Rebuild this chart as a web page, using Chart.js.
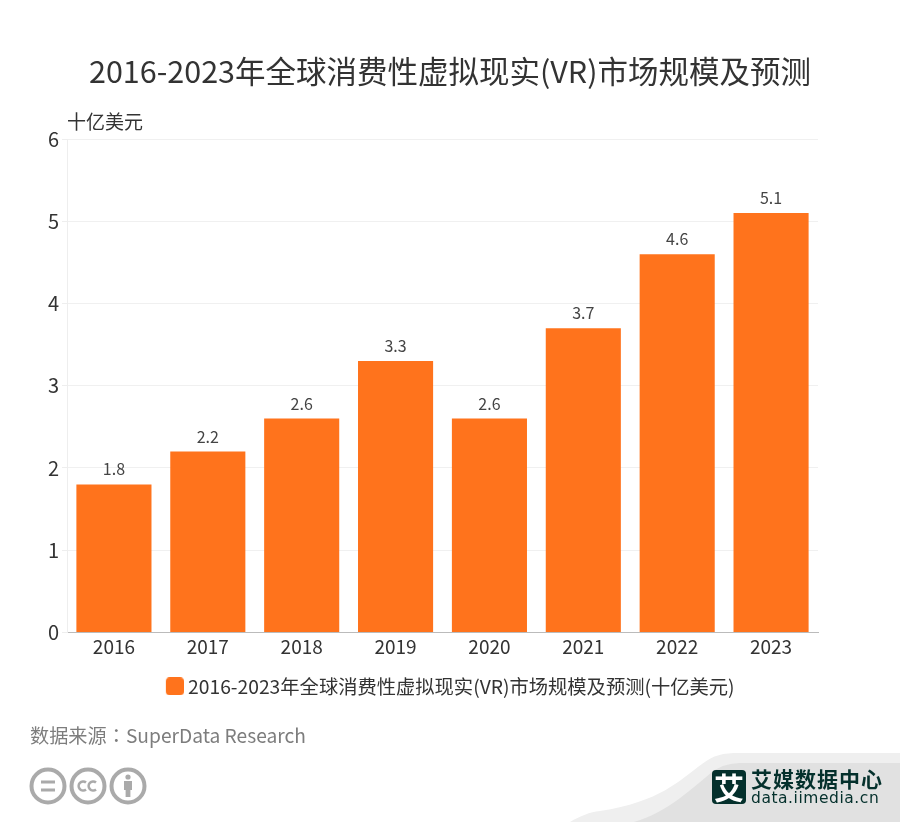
<!DOCTYPE html>
<html><head><meta charset="utf-8">
<style>
html,body{margin:0;padding:0;background:#fff;width:900px;height:822px;overflow:hidden}
#wrap{position:relative;width:900px;height:822px}
canvas{position:absolute;left:0;top:0}
.t{position:absolute;white-space:nowrap;font-family:"Noto Sans CJK SC","Noto Sans",sans-serif}
svg{position:absolute;left:0;top:0}
</style>
<script src="https://cdn.jsdelivr.net/npm/chart.js@4"></script>
</head><body><div id="wrap">
<svg width="900" height="822" viewBox="0 0 900 822">
<path d="M600 811 C660 802 680 780 702 764 C714 755 722 753 740 753 L900 753 L900 822 L570 822 C580 816 590 812 600 811Z" fill="#efefef"/>
<path d="M634 822 C668 812 690 790 712 772 C722 765 730 763 745 763 L900 763 L900 822Z" fill="#e1e1e1"/>
<g fill="none" stroke="#aaaaaa" stroke-width="4">
<circle cx="48" cy="786" r="16.5"/><circle cx="88" cy="786" r="16.5"/><circle cx="128" cy="786" r="16.5"/>
</g>
<path d="M41 782h14M41 790h14" stroke="#aaa" stroke-width="3.2" fill="none"/>
<path d="M86 782.5a4.5 4.5 0 1 0 0 7M96 782.5a4.5 4.5 0 1 0 0 7" stroke="#aaa" stroke-width="2.6" fill="none"/>
<circle cx="128" cy="777" r="2.6" fill="#aaa"/>
<path d="M124 781h8v9h-1.6v7h-4.8v-7H124z" fill="#aaa"/>
<rect x="712" y="770" width="34" height="34" rx="4" fill="#04302c"/>
</svg>
<canvas id="c" width="900" height="822"></canvas>
<div class="t" style="left:713px;top:768px;width:32px;text-align:center;font-size:30px;line-height:36px;color:#fff;font-weight:700">艾</div>
<div class="t" style="left:751px;top:764px;font-size:21px;line-height:28px;color:#04302c;font-weight:700;letter-spacing:1px">艾媒数据中心</div>
<div class="t" style="left:751px;top:788px;font-size:15.5px;line-height:20px;color:#04302c;font-family:'DejaVu Sans';letter-spacing:.55px">data.iimedia.cn</div>
<div class="t" style="left:67px;top:107px;font-size:19px;line-height:28px;color:#333">十亿美元</div>
<div class="t" style="left:30px;top:721px;font-size:19.2px;line-height:28px;color:#7d7d7d">数据来源<span style="font-family:'Noto Sans CJK TC'">：</span>SuperData Research</div>
</div>
<script>
const categories = ["2016","2017","2018","2019","2020","2021","2022","2023"];
const seriesValues = [1.8,2.2,2.6,3.3,2.6,3.7,4.6,5.1];
const seriesName = "2016-2023年全球消费性虚拟现实(VR)市场规模及预测(十亿美元)";
const chartTitle = "2016-2023年全球消费性虚拟现实(VR)市场规模及预测";
const FF = '"Noto Sans CJK SC","Noto Sans",sans-serif';
const barColor = '#ff731c';
const swatch = document.createElement('canvas');
swatch.width = 24; swatch.height = 18;
{ const s = swatch.getContext('2d'); s.fillStyle = barColor; s.beginPath(); s.roundRect(6,0,18,18,4); s.fill(); }
const dataLabels = {
  id:'dataLabels',
  afterDatasetsDraw(chart){
    const {ctx} = chart;
    const meta = chart.getDatasetMeta(0);
    ctx.save();
    ctx.font = '16px '+FF; ctx.fillStyle='#444'; ctx.textAlign='center'; ctx.textBaseline='bottom';
    meta.data.forEach((el,i)=>ctx.fillText(seriesValues[i].toFixed(1), el.x, el.y-7));
    ctx.restore();
  }
};
new Chart(document.getElementById('c'),{
  type:'bar',
  data:{labels:categories,datasets:[{label:seriesName,data:seriesValues,backgroundColor:barColor,borderWidth:0,barPercentage:0.8,categoryPercentage:1,pointStyle:swatch}]},
  plugins:[dataLabels],
  options:{
    responsive:false,animation:false,devicePixelRatio:1,
    layout:{padding:{left:0,right:0,top:53,bottom:116}},
    plugins:{
      tooltip:{enabled:false},
      title:{display:true,text:chartTitle,color:'#333',font:{family:FF,size:30.5,weight:'normal'},padding:{top:0,bottom:49.4}},
      legend:{position:'bottom',labels:{usePointStyle:true,boxWidth:13,color:'#333',font:{family:FF,size:19.3},boxHeight:15.5,padding:19.5}}
    },
    scales:{
      x:{grid:{display:false,tickLength:4,tickColor:'#bbb'},border:{color:'#bbb'},ticks:{color:'#333',font:{family:FF,size:19},padding:-1,maxRotation:0}},
      y:{min:0,max:6,afterFit(s){s.width=67},grid:{color:'#f0f0f0',tickLength:5,tickColor:'#eee'},border:{color:'#eee',width:1},
         ticks:{stepSize:1,color:'#333',font:{family:FF,size:20},padding:3}},
      spacer:{position:'right',afterFit(s){s.width=82},grid:{display:false},border:{display:false},ticks:{display:false}}
    }
  }
});
</script></body></html>
